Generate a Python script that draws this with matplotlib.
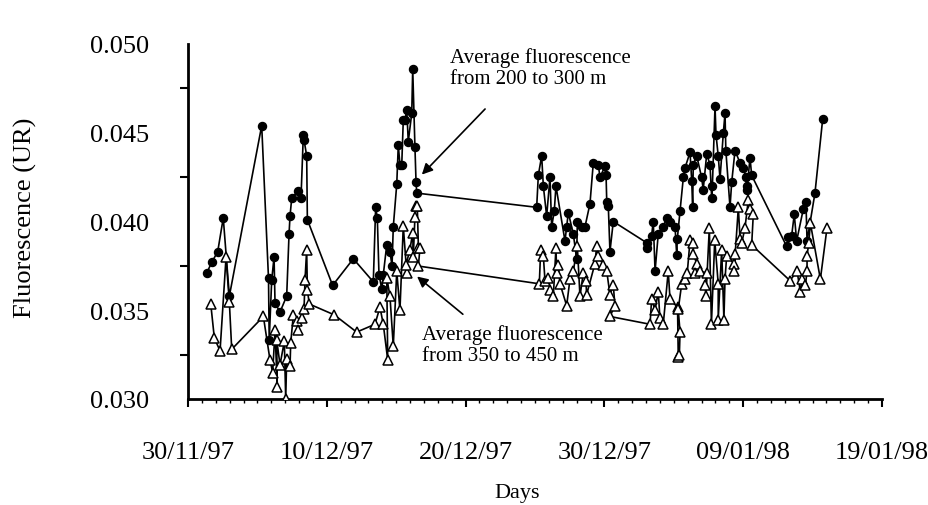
import numpy as np
import matplotlib
matplotlib.use("Agg")
import matplotlib.pyplot as plt
from matplotlib.ticker import MultipleLocator

plt.rcParams['font.family'] = ['Liberation Serif', 'DejaVu Serif']

# days after 30/11/97, fluorescence (UR)
days_200 = [1.35, 1.71, 2.14, 2.54, 2.98, 5.31, 5.80, 5.85, 6.03, 6.20, 6.27, 6.63, 7.11, 7.28, 7.35,
            7.47, 7.90, 8.14, 8.31, 8.36, 8.55, 8.60, 10.42, 11.91, 13.35, 13.52, 13.64, 13.76, 13.96,
            14.07, 14.32, 14.55, 14.70, 14.79, 15.04, 15.15, 15.27, 15.40, 15.51, 15.63, 15.76, 15.87,
            16.12, 16.19, 16.35, 16.43, 16.48, 25.12, 25.24, 25.48, 25.60, 25.84, 26.08, 26.20, 26.39,
            26.51, 27.16, 27.28, 27.40, 27.76, 28.00, 28.05, 28.36, 28.60, 28.96, 29.20, 29.56, 29.68,
            30.04, 30.12, 30.17, 30.28, 30.40, 30.64, 33.05, 33.10, 33.40, 33.52, 33.65, 33.88, 34.24,
            34.49, 34.73, 35.09, 35.21, 35.25, 35.45, 35.69, 35.80, 36.17, 36.29, 36.36, 36.40, 36.65,
            37.00, 37.12, 37.37, 37.61, 37.73, 37.78, 37.97, 38.04, 38.20, 38.33, 38.57, 38.69, 38.75,
            39.05, 39.17, 39.41, 39.77, 40.01, 40.20, 40.25, 40.30, 40.49, 40.61, 43.13, 43.25, 43.49,
            43.68, 43.85, 44.33, 44.52, 44.60, 45.17, 45.73]
fluo_200 = [.0371, .0377, .0383, .0402, .0358, .0454, .0368, .0333, .0367, .0380, .0354, .0349, .0358, .0393, .0403,
            .0413, .0417, .0413, .0449, .0446, .0437, .0401, .0364, .0379, .0366, .0408, .0402, .0370, .0362,
            .0370, .0387, .0383, .0375, .0397, .0421, .0443, .0432, .0432, .0457, .0457, .0463, .0445,
            .0461, .0486, .0442, .0422, .0416, .0408, .0426, .0437, .0420, .0403, .0425, .0397, .0406,
            .0420, .0389, .0397, .0405, .0393, .0379, .0400, .0397, .0397, .0410, .0433, .0432, .0425,
            .0431, .0426, .0411, .0409, .0383, .0400, .0388, .0385, .0392, .0400, .0372, .0393, .0397,
            .0402, .0400, .0397, .0381, .0390, .0406, .0425, .0430, .0439, .0423, .0408, .0432, .0437,
            .0425, .0418, .0438, .0432, .0413, .0420, .0465, .0449, .0437, .0424, .0450, .0461, .0440,
            .0408, .0422, .0440, .0433, .0430, .0425, .0418, .0420, .0436, .0426, .0386, .0391, .0392,
            .0404, .0389, .0407, .0411, .0389, .0416, .0458]

days_350 = [1.64, 1.90, 2.31, 2.74, 2.98, 3.15, 5.43, 5.91, 6.10, 6.27, 6.43, 6.39, 6.63, 6.94, 7.04,
            7.11, 7.35, 7.40, 7.59, 7.83, 7.95, 8.19, 8.36, 8.43, 8.55, 8.60, 8.74, 10.54, 12.15, 13.47,
            13.83, 14.07, 14.39, 14.32, 14.55, 14.79, 15.04, 15.27, 15.51, 15.76, 15.70, 15.99, 16.19,
            16.23, 16.35, 16.43, 16.52, 16.60, 16.71, 16.60, 25.31, 25.41, 25.60, 25.72, 25.96, 26.08,
            26.32, 26.51, 26.56, 26.68, 26.80, 27.28, 27.52, 27.76, 28.05, 28.24, 28.48, 28.67, 28.72,
            29.32, 29.44, 29.56, 29.92, 30.17, 30.40, 30.64, 30.76, 30.40, 33.29, 33.40, 33.65, 33.88,
            34.00, 34.24, 34.60, 34.73, 35.27, 35.32, 35.40, 35.45, 35.32, 35.57, 35.81, 35.97, 36.17,
            36.41, 36.41, 36.65, 36.53, 36.89, 37.37, 37.25, 37.32, 37.56, 37.71, 37.95, 38.20, 38.20,
            38.45, 38.61, 38.69, 38.81, 39.34, 39.41, 39.34, 39.65, 39.77, 39.89, 40.13, 40.37, 40.49,
            40.73, 40.61, 43.37, 43.88, 44.12, 44.24, 44.48, 44.60, 44.60, 44.72, 44.84, 45.56, 46.04]
fluo_350 = [.03535, .03342, .03272, .03798, .03544, .03280, .03465, .03219, .03149, .03386, .03070, .03333, .03193, .03325, .03000,
            .03228, .03184, .03316, .03474, .03439, .03386, .03456, .03509, .03670, .03842, .03614, .03535, .03474, .03377, .03421,
            .03517, .03421, .03219, .03684, .03579, .03298, .03720, .03500, .03974, .03710, .03754, .03842, .03938,
            .03798, .04026, .04088, .04088, .03850, .03851, .03749, .03649, .03842, .03807, .03667, .03684, .03614,
            .03579, .03851, .03710, .03754, .03649, .03526, .03675, .03720, .03860, .03579, .03710, .03667, .03588,
            .03763, .03860, .03807, .03754, .03720, .03588, .03640, .03526, .03465, .03421, .03561, .03500, .03605,
            .03456, .03421, .03720, .03561, .03517, .03237, .03246, .03377, .03505, .03649, .03675, .03710, .03895,
            .03877, .03816, .03763, .03710, .03720, .03710, .03640, .03579, .03965, .03421, .03895, .03649, .03447,
            .03842, .03447, .03675, .03807, .03763, .03816, .03723, .04079, .03904, .03877, .03965, .04123, .04070,
            .04044, .03868, .03667, .03720, .03605, .03675, .03640, .03720, .03807, .03877, .03991, .03675, .03965]

date_labels = ["30/11/97", "10/12/97", "20/12/97", "30/12/97", "09/01/98", "19/01/98"]
y_labels = ["0.030", "0.035", "0.040", "0.045", "0.050"]

fig = plt.figure(figsize=(9.29, 5.06), dpi=100)
ax = fig.add_axes([188/929, 1-400/506, (882-188)/929, (400-45)/506])

ax.plot(days_200, fluo_200, color='black', lw=1.2, marker='o', ms=5.8,
        mfc='black', mec='black', zorder=3)
ax.plot(days_350, fluo_350, color='black', lw=1.2, marker='^', ms=7,
        mfc='white', mec='black', mew=1.1, zorder=4)

ax.set_xlim(0, 50)
ax.set_ylim(0.030, 0.030 + 355/19000)

ax.set_xticks(np.arange(0, 51, 10))
ax.set_xticklabels(date_labels)
ax.xaxis.set_minor_locator(MultipleLocator(1))
ax.tick_params(axis='x', which='major', length=6, width=1.5, pad=24, labelsize=19)
ax.tick_params(axis='x', which='minor', length=3, width=1.0)

ax.set_yticks([0.030, 0.035, 0.040, 0.045, 0.050])
ax.set_yticklabels(y_labels)
ax.set_yticks([0.0325, 0.0375, 0.0425, 0.0475], minor=True)
ax.tick_params(axis='y', which='major', length=0, pad=28, labelsize=19)
ax.tick_params(axis='y', which='minor', length=6, width=1.5)
for t in ax.get_yticklabels():
    t.set_clip_on(False)

for s in ['top', 'right']:
    ax.spines[s].set_visible(False)
ax.spines['left'].set_linewidth(2)
ax.spines['bottom'].set_linewidth(2)

fig.text(25/929, 1-218/506, "Fluorescence (UR)", rotation=90, ha='center', va='center', fontsize=19)
fig.text(517/929, 1-494/506, "Days", ha='center', va='center', fontsize=16)

fig.text(450/929, 1-48/506, "Average fluorescence\nfrom 200 to 300 m", ha='left', va='top',
         fontsize=15, linespacing=1.15)
fig.text(422/929, 1-325/506, "Average fluorescence\nfrom 350 to 450 m", ha='left', va='top',
         fontsize=15, linespacing=1.15)

arrow = dict(arrowstyle='-|>', color='black', lw=1.2, mutation_scale=16)
ax.annotate('', xy=(16.71, 0.04253), xytext=(487/929, 1-108/506), textcoords='figure fraction',
            arrowprops=arrow, zorder=5)
ax.annotate('', xy=(16.35, 0.0370), xytext=(465/929, 1-317/506), textcoords='figure fraction',
            arrowprops=arrow, zorder=5)

fig.savefig("out.png", dpi=100)
